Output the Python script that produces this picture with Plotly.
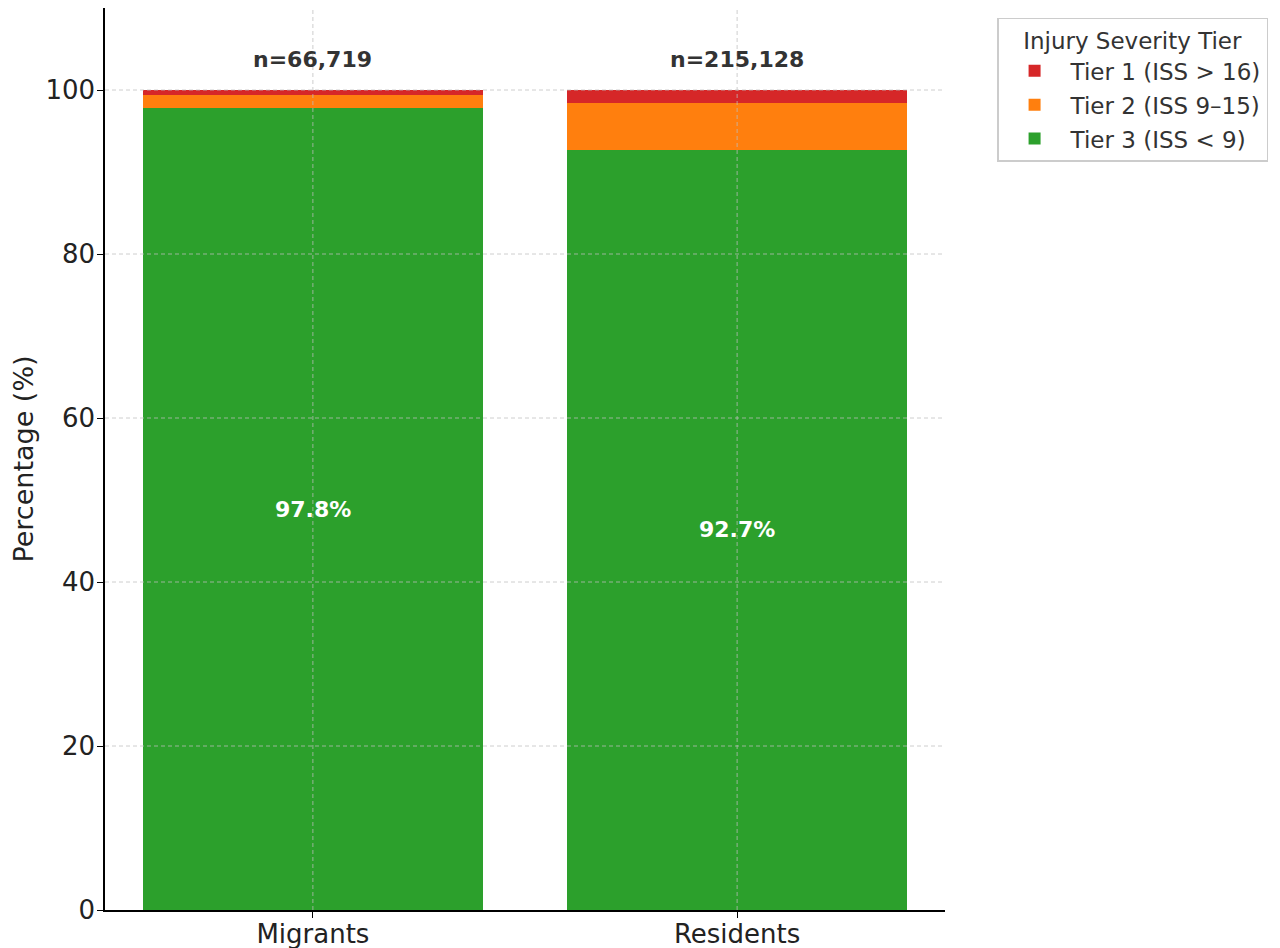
import plotly.graph_objects as go

groups = ["Migrants", "Residents"]
sample_sizes = ["n=66,719", "n=215,128"]
tier1 = [0.6, 1.6]
tier2 = [1.6, 5.7]
tier3 = [97.8, 92.7]
tier_names = ["Tier 1 (ISS > 16)", "Tier 2 (ISS 9\u201315)", "Tier 3 (ISS < 9)"]
tier_colors = ["#d62728", "#ff7f0e", "#2ca02c"]
y_ticks = [0, 20, 40, 60, 80, 100]

FONT = "DejaVu Sans"
GRID = "rgba(190,190,190,0.75)"
fig = go.Figure()
for rank, name, vals, col in [(3, tier_names[2], tier3, tier_colors[2]),
                              (2, tier_names[1], tier2, tier_colors[1]),
                              (1, tier_names[0], tier1, tier_colors[0])]:
    fig.add_trace(go.Bar(x=groups, y=vals, name=name, legendgroup=name, legendrank=rank,
                         marker=dict(color=col, line=dict(width=0)),
                         width=0.8, hoverinfo="skip"))

annotations = []
for g, n, a, b, c in zip(groups, sample_sizes, tier1, tier2, tier3):
    annotations.append(dict(x=g, y=c / 2, text=f"<b>{c:.1f}%</b>", showarrow=False,
                            font=dict(family=FONT, size=22, color="white"), xref="x", yref="y"))
    annotations.append(dict(x=g, y=a + b + c + 2, text=f"<b>{n}</b>", showarrow=False,
                            yanchor="bottom", font=dict(family=FONT, size=22, color="#333333"),
                            xref="x", yref="y"))

shapes = []
for g in groups:
    shapes.append(dict(type="line", xref="x", yref="y domain", x0=g, x1=g, y0=0, y1=1,
                       line=dict(color=GRID, width=1, dash="4px,3px"), layer="above"))
for t in y_ticks[1:]:
    shapes.append(dict(type="line", xref="x domain", yref="y", x0=0, x1=1, y0=t, y1=t,
                       line=dict(color=GRID, width=1, dash="4px,3px"), layer="above"))

fig.update_layout(
    barmode="stack",
    width=1280, height=948,
    margin=dict(l=97, r=343, t=0, b=46),
    plot_bgcolor="white", paper_bgcolor="white",
    font=dict(family=FONT, size=22, color="#222222"),
    legend=dict(
        title=dict(text="Injury Severity Tier", side="top center", font=dict(family=FONT, size=23, color="#333333")),
        traceorder="grouped",
        tracegroupgap=1,
        x=1.062, y=0.989, xanchor="left", yanchor="top",
        bordercolor="#cccccc", borderwidth=1.5, bgcolor="white",
        font=dict(family=FONT, size=23, color="#333333"),
        itemwidth=62,
    ),
    annotations=annotations,
    shapes=shapes,
    showlegend=True,
)
fig.update_xaxes(
    range=[-0.49, 1.49],
    showline=True, linecolor="black", linewidth=1.5,
    ticks="outside", ticklen=6, tickcolor="black",
    showgrid=False,
    tickfont=dict(family=FONT, size=26, color="#222222"),
    ticklabelstandoff=-6,
    layer="above traces",
)
fig.update_yaxes(
    range=[0, 110],
    tickvals=y_ticks,
    showline=True, linecolor="black", linewidth=1.5,
    ticks="outside", ticklen=6, tickcolor="black",
    showgrid=False,
    zeroline=False,
    title=dict(text="Percentage (%)", font=dict(family=FONT, size=27, color="#222222"), standoff=12),
    tickfont=dict(family=FONT, size=26, color="#222222"),
    ticklabelstandoff=-3,
    layer="above traces",
)

fig.write_html("out.html")
